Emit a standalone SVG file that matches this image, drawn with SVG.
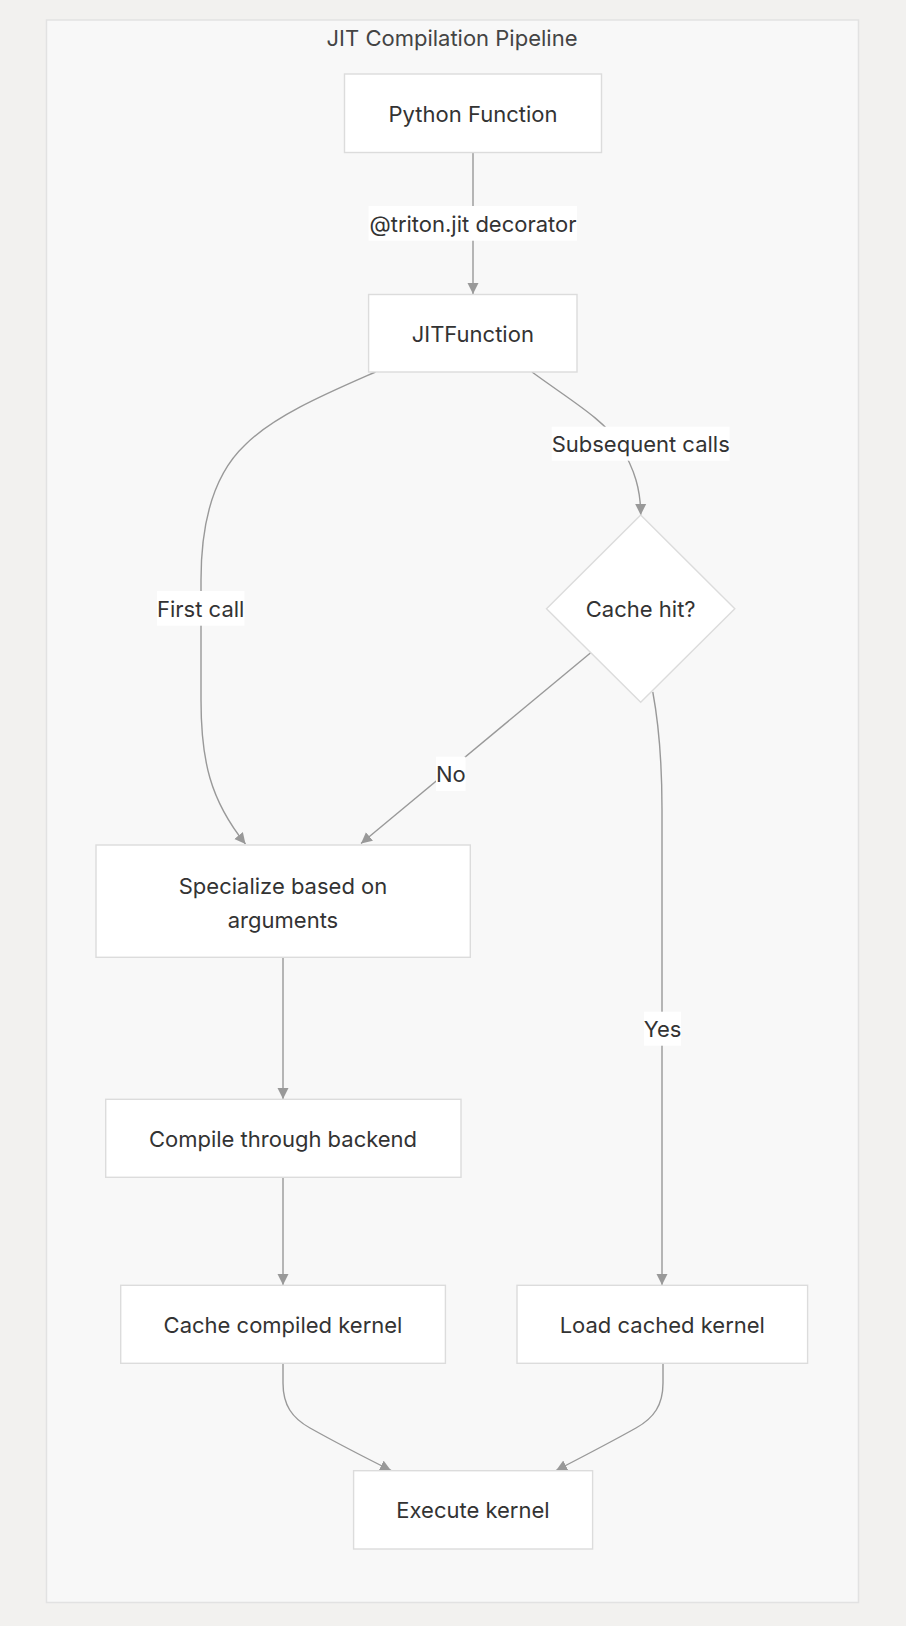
<svg xmlns="http://www.w3.org/2000/svg" width="906" height="1626" viewBox="0 0 906 1626">
<style>
.node rect,.node polygon{fill:#ffffff;stroke:#dcdcdc;stroke-width:1.4}
.t{font-family:Inter,"Noto Sans","Liberation Sans",sans-serif;font-size:22px;fill:#333333;text-anchor:middle}
.title{font-family:Inter,"Noto Sans","Liberation Sans",sans-serif;font-size:22px;fill:#444444;text-anchor:middle}
.edge{fill:none;stroke:#999999;stroke-width:1.4}
.lbg{fill:#ffffff}
</style>
<defs>
<marker id="arrow" viewBox="0 0 10 10" refX="10" refY="5" markerUnits="userSpaceOnUse" markerWidth="11" markerHeight="12" orient="auto">
<path d="M0,0 L10,5 L0,10 z" fill="#999999"/>
</marker>
</defs>
<rect x="0" y="0" width="906" height="1626" fill="#f2f1ef"/>
<g id="cluster">
<rect x="46.5" y="20" width="812" height="1582.5" fill="#f8f8f8" stroke="#e2e2e2" stroke-width="1.5"/>
<text class="title" x="452" y="46">JIT Compilation Pipeline</text>
</g>
<g id="connectors">
<path class="edge" d="M473,152.5 L473,294" marker-end="url(#arrow)"/>
<path class="edge" d="M375.5,372 C330,392 275,415 245,445 C210,478 201,530 201,580 L201,700 C201,760 210,800 245.5,844" marker-end="url(#arrow)"/>
<path class="edge" d="M532,372 C570,400 605,420 620,445 C635,470 640.7,490 640.7,515" marker-end="url(#arrow)"/>
<path class="edge" d="M590.4,653 L361,843.5" marker-end="url(#arrow)"/>
<path class="edge" d="M652.8,692 C658,720 662,760 662,810 L662,1285" marker-end="url(#arrow)"/>
<path class="edge" d="M283,957.5 L283,1099" marker-end="url(#arrow)"/>
<path class="edge" d="M283,1177.5 L283,1285" marker-end="url(#arrow)"/>
<path class="edge" d="M283,1363.5 L283,1383 C283,1405 292,1418 310,1428 C335,1442 360,1455 391,1470.5" marker-end="url(#arrow)"/>
<path class="edge" d="M663,1363.5 L663,1383 C663,1405 654,1418 636,1428 C611,1442 586,1455 556,1470.5" marker-end="url(#arrow)"/>
<g id="edge-labels">
<rect class="lbg" x="368.6" y="206" width="208.4" height="34.7"/>
<text class="t" x="473" y="231.5">@triton.jit decorator</text>
<rect class="lbg" x="157" y="591" width="87.4" height="34.7"/>
<text class="t" x="200.7" y="616.5">First call</text>
<rect class="lbg" x="551.7" y="426.7" width="177.9" height="34"/>
<text class="t" x="640.7" y="452">Subsequent calls</text>
<rect class="lbg" x="436" y="756.7" width="29.6" height="34.3"/>
<text class="t" x="450.8" y="782">No</text>
<rect class="lbg" x="644" y="1011.7" width="37" height="34"/>
<text class="t" x="662.5" y="1037">Yes</text>
</g>
</g>
<g id="python-function" class="node">
<rect x="344.5" y="74" width="257" height="78.5"/>
<text class="t" x="473" y="121.5">Python Function</text>
</g>
<g id="jit-function" class="node">
<rect x="368.6" y="294.5" width="208.4" height="77.5"/>
<text class="t" x="472.8" y="341.5">JITFunction</text>
</g>
<g id="cache-hit" class="node">
<polygon points="640.7,515 734.8,608.7 640.7,702.3 546.5,608.7"/>
<text class="t" x="640.7" y="616.5">Cache hit?</text>
</g>
<g id="specialize" class="node">
<rect x="96" y="845" width="374.3" height="112.3"/>
<text class="t" x="283" y="893.7">Specialize based on</text>
<text class="t" x="283" y="928">arguments</text>
</g>
<g id="compile" class="node">
<rect x="105.7" y="1099.3" width="355.3" height="78"/>
<text class="t" x="283" y="1146.5">Compile through backend</text>
</g>
<g id="cache-compiled" class="node">
<rect x="120.7" y="1285.3" width="324.7" height="78"/>
<text class="t" x="283" y="1332.5">Cache compiled kernel</text>
</g>
<g id="load-cached" class="node">
<rect x="517" y="1285.3" width="290.6" height="78"/>
<text class="t" x="662.3" y="1332.5">Load cached kernel</text>
</g>
<g id="execute" class="node">
<rect x="353.6" y="1470.7" width="239" height="78.3"/>
<text class="t" x="473" y="1517.8">Execute kernel</text>
</g>
</svg>
